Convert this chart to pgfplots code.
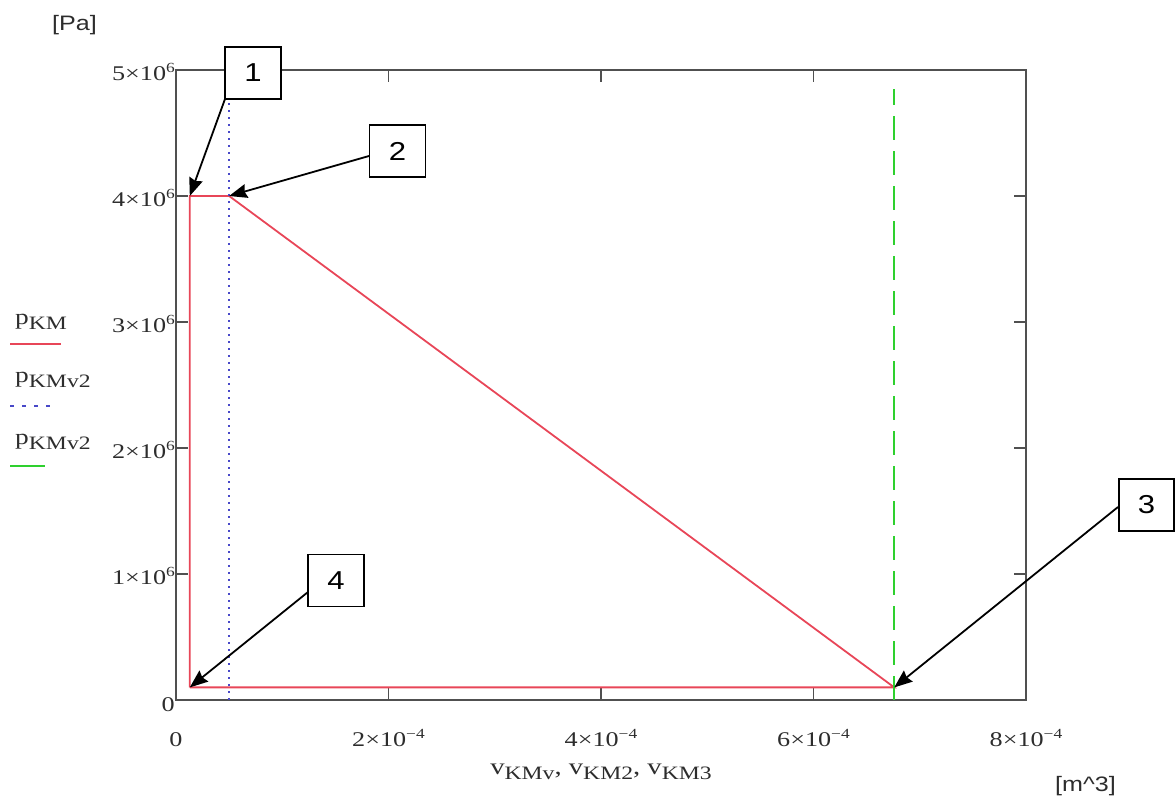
\documentclass[border=0pt]{standalone}
\usepackage{fontspec}
\setmainfont{Liberation Serif}[FakeStretch=1.25]
\newfontfamily\arial{Liberation Sans}[FakeStretch=1.2]
\usepackage{pgfplots}
\pgfplotsset{compat=1.18}
\usetikzlibrary{arrows.meta}

\definecolor{axisgray}{RGB}{80,80,80}
\definecolor{txtgray}{RGB}{45,45,45}
\definecolor{kmred}{RGB}{232,70,88}
\definecolor{kmblue}{RGB}{72,72,200}
\definecolor{kmgreen}{RGB}{46,208,46}

% mantissa x 10^exponent, set in the text font
\newcommand\sci[2]{#1×10\raisebox{8bp}{\fontsize{14}{14}\selectfont #2}}
% variable with lowered subscript
\newcommand\sub[2]{#1\raisebox{-5bp}{\fontsize{19}{19}\selectfont #2}}

\begin{document}
\begin{tikzpicture}
\path[use as bounding box] (0,0) rectangle (1175bp,798bp);

\begin{axis}[
  at={(176bp,98bp)}, anchor=south west,
  scale only axis, width=850bp, height=630bp,
  xmin=0, xmax=8e-4, ymin=0, ymax=5e6,
  scaled ticks=false,
  xtick={0,2e-4,4e-4,6e-4,8e-4},
  xticklabels={0,\sci{2}{−4},\sci{4}{−4},\sci{6}{−4},\sci{8}{−4}},
  ytick={0,1e6,2e6,3e6,4e6,5e6},
  yticklabels={0,\sci{1}{6},\sci{2}{6},\sci{3}{6},\sci{4}{6},\sci{5}{6}},
  tick align=inside,
  major tick length=12bp,
  every tick/.style={axisgray, line width=1.5bp},
  axis line style={draw=axisgray, line width=2bp},
  xticklabel style={anchor=base, inner sep=0pt, yshift=-46bp, text=txtgray,
    font=\fontsize{21}{25}\selectfont},
  yticklabel style={anchor=base east, inner sep=0pt, yshift=-11bp, xshift=-1bp, text=txtgray,
    font=\fontsize{21}{25}\selectfont},
]
% pressure cycle p_KM over V_KMv
\addplot[kmred, line width=1.8bp] coordinates {
  (1.3e-5,1e5) (1.3e-5,4e6) (5e-5,4e6) (6.76e-4,1e5) (1.3e-5,1e5)
};
% p_KMv2 over V_KM2
\addplot[kmblue, line width=2.2bp, dash pattern=on 2bp off 5bp] coordinates {
  (5e-5,0) (5e-5,5e6)
};
% p_KMv2 over V_KM3
\addplot[kmgreen, line width=2bp, dash pattern=on 24bp off 11bp] coordinates {
  (6.76e-4,0) (6.76e-4,4.85e6)
};
\coordinate (p1) at (axis cs:1.3e-5,4e6);
\coordinate (p2) at (axis cs:5e-5,4e6);
\coordinate (p3) at (axis cs:6.76e-4,1e5);
\coordinate (p4) at (axis cs:1.3e-5,1e5);
\end{axis}

% legend
\node[anchor=base west, inner sep=0pt, text=txtgray, font=\fontsize{22}{26}\selectfont]
  at (15bp,473bp) {\sub{p}{KM}};
\draw[kmred, line width=2bp] (10bp,454bp) -- (61bp,454bp);
\node[anchor=base west, inner sep=0pt, text=txtgray, font=\fontsize{22}{26}\selectfont]
  at (15bp,415bp) {\sub{p}{KMv2}};
\draw[kmblue, line width=2bp, dash pattern=on 4bp off 8bp] (10bp,392bp) -- (54bp,392bp);
\node[anchor=base west, inner sep=0pt, text=txtgray, font=\fontsize{22}{26}\selectfont]
  at (15bp,353bp) {\sub{p}{KMv2}};
\draw[kmgreen, line width=2bp] (10bp,332bp) -- (45bp,332bp);

% axis titles and units
\node[anchor=base, inner sep=0pt, text=txtgray, font=\fontsize{23}{27}\selectfont]
  at (601bp,24bp) {\sub{v}{KMv}, \sub{v}{KM2}, \sub{v}{KM3}};
\node[anchor=base west, inner sep=0pt, text=txtgray, font=\arial\fontsize{21}{25}\selectfont]
  at (52bp,767bp) {[Pa]};
\node[anchor=base west, inner sep=0pt, text=txtgray, font=\arial\fontsize{21}{25}\selectfont]
  at (1055bp,7bp) {[m\^{}3]};

% state point callouts
\tikzset{callout/.style={-{Stealth[length=18bp,width=14bp,inset=2bp]}, line width=1.8bp, black},
         numbox/.style={draw=black, line width=1.5bp, fill=white, inner sep=0pt,
           minimum width=56bp, minimum height=52bp, font=\arial\fontsize{26}{30}\selectfont}}
\draw[callout] (225bp,699bp) -- (p1);
\draw[callout] (369bp,642bp) -- (p2);
\draw[callout] (1118bp,291bp) -- (p3);
\draw[callout] (308bp,206bp) -- (p4);
\node[numbox] at (253bp,725bp) {1};
\node[numbox] at (397.5bp,647bp) {2};
\node[numbox, minimum width=55bp] at (1146.5bp,293bp) {3};
\node[numbox] at (336bp,217.5bp) {4};
\end{tikzpicture}
\end{document}
